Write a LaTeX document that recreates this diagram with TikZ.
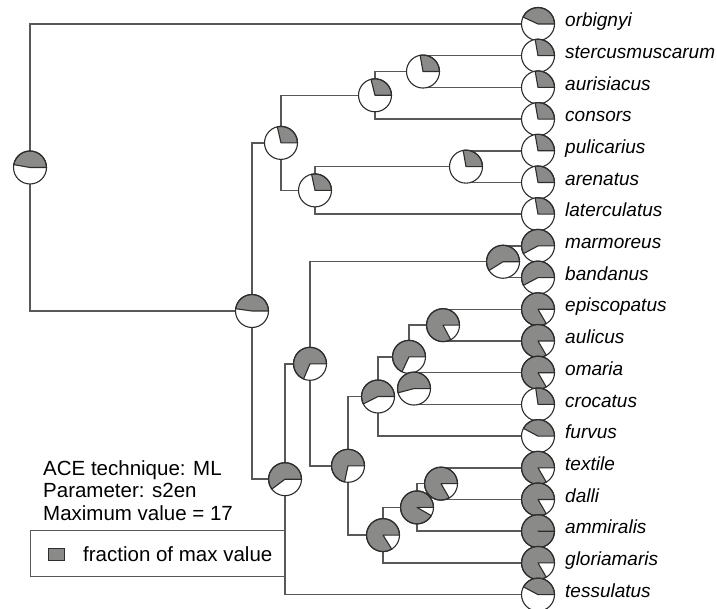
\documentclass[tikz,border=0pt]{standalone}
\usepackage{fontspec}
\setmainfont{Liberation Sans}
\definecolor{piegray}{RGB}{138,138,136}
\definecolor{edgegray}{RGB}{88,88,88}
\definecolor{pieline}{RGB}{45,45,45}
\newcommand\pieR{16.5pt}
\newcommand\drawpie[2]{%
  \fill[white] (#1) circle[radius=\pieR];
  \filldraw[fill=piegray, draw=pieline, line width=1.1pt, line join=round] (#1) -- ++(0:\pieR) arc[start angle=0, end angle=#2, radius=\pieR] -- cycle;
  \draw[pieline, line width=1.1pt] (#1) circle[radius=\pieR];
}
\tikzset{
  branch/.style={draw=edgegray, line width=1.5pt},
  tiplab/.style={anchor=mid west, inner sep=0pt, font=\itshape\fontsize{19}{22}\selectfont},
  legtext/.style={anchor=base west, inner sep=0pt, font=\fontsize{20.5}{24}\selectfont},
}
\begin{document}
\begin{tikzpicture}[x=1pt,y=1pt]
\useasboundingbox (0,0) rectangle (717,-609);
% tips
\coordinate (t0) at (538,-24);
\coordinate (t1) at (538,-55.7);
\coordinate (t2) at (538,-87.4);
\coordinate (t3) at (538,-119.1);
\coordinate (t4) at (538,-150.8);
\coordinate (t5) at (538,-182.5);
\coordinate (t6) at (538,-214.2);
\coordinate (t7) at (538,-245.9);
\coordinate (t8) at (538,-277.6);
\coordinate (t9) at (538,-309.3);
\coordinate (t10) at (538,-341);
\coordinate (t11) at (538,-372.7);
\coordinate (t12) at (538,-404.4);
\coordinate (t13) at (538,-436.1);
\coordinate (t14) at (538,-467.8);
\coordinate (t15) at (538,-499.5);
\coordinate (t16) at (538,-531.2);
\coordinate (t17) at (538,-562.9);
\coordinate (t18) at (538,-594.6);
% internal nodes
\coordinate (root) at (30,-167.5);
\coordinate (B) at (252,-311);
\coordinate (C) at (281,-142.9);
\coordinate (D) at (375,-95.3);
\coordinate (F) at (423,-71.55);
\coordinate (E) at (315,-190.4);
\coordinate (G) at (466,-166.65);
\coordinate (H) at (285,-479.2);
\coordinate (I) at (310,-363.8);
\coordinate (J) at (503,-261.75);
\coordinate (K) at (348,-465.8);
\coordinate (L) at (378,-396.5);
\coordinate (N) at (409,-356.85);
\coordinate (O) at (443,-325.15);
\coordinate (P) at (414,-388.55);
\coordinate (M) at (383,-535.1);
\coordinate (Q) at (417,-507.4);
\coordinate (R) at (441,-483.65);
% legend (drawn below branches)
\node[legtext] (lg1) at (43,-475) {ACE technique: ML};
\node[legtext] (lg2) at (43,-497.5) {Parameter: s2en};
\node[legtext] (lg3) at (43,-520) {Maximum value = 17};
\node[draw=edgegray, line width=1.3pt, minimum width=255pt, minimum height=46pt, anchor=north west, inner sep=0pt] (legbox) at (30,-530) {};
\node[fill=piegray, draw=pieline, line width=1pt, minimum width=16pt, minimum height=12pt, inner sep=0pt] (legsq) at (56.5,-554.5) {};
\node[legtext] (lgf) at (83,-561) {fraction of max value};
% branches
\draw[branch] (root) |- (t0);
\draw[branch] (root) |- (B);
\draw[branch] (B) |- (C);
\draw[branch] (B) |- (H);
\draw[branch] (C) |- (D);
\draw[branch] (C) |- (E);
\draw[branch] (D) |- (F);
\draw[branch] (D) |- (t3);
\draw[branch] (F) |- (t1);
\draw[branch] (F) |- (t2);
\draw[branch] (E) |- (G);
\draw[branch] (E) |- (t6);
\draw[branch] (G) |- (t4);
\draw[branch] (G) |- (t5);
\draw[branch] (H) |- (I);
\draw[branch] (H) |- (t18);
\draw[branch] (I) |- (J);
\draw[branch] (I) |- (K);
\draw[branch] (J) |- (t7);
\draw[branch] (J) |- (t8);
\draw[branch] (K) |- (L);
\draw[branch] (K) |- (M);
\draw[branch] (L) |- (N);
\draw[branch] (L) |- (t13);
\draw[branch] (N) |- (O);
\draw[branch] (N) |- (P);
\draw[branch] (O) |- (t9);
\draw[branch] (O) |- (t10);
\draw[branch] (P) |- (t11);
\draw[branch] (P) |- (t12);
\draw[branch] (M) |- (Q);
\draw[branch] (M) |- (t17);
\draw[branch] (Q) |- (R);
\draw[branch] (Q) |- (t16);
\draw[branch] (R) |- (t14);
\draw[branch] (R) |- (t15);
% internal pies (preorder)
\drawpie{root}{170}
\drawpie{B}{172}
\drawpie{C}{103}
\drawpie{D}{104}
\drawpie{F}{100}
\drawpie{E}{102}
\drawpie{G}{100}
\drawpie{H}{217}
\drawpie{I}{247}
\drawpie{J}{212}
\drawpie{K}{258}
\drawpie{L}{207}
\drawpie{N}{245}
\drawpie{O}{298}
\drawpie{P}{195}
\drawpie{M}{302}
\drawpie{Q}{330}
\drawpie{R}{300}
% tip pies
\drawpie{t0}{155}
\drawpie{t1}{100}
\drawpie{t2}{100}
\drawpie{t3}{100}
\drawpie{t4}{100}
\drawpie{t5}{100}
\drawpie{t6}{100}
\drawpie{t7}{208}
\drawpie{t8}{208}
\drawpie{t9}{300}
\drawpie{t10}{300}
\drawpie{t11}{300}
\drawpie{t12}{98}
\drawpie{t13}{152}
\drawpie{t14}{300}
\drawpie{t15}{300}
\drawpie{t16}{360}
\drawpie{t17}{300}
\drawpie{t18}{152}
% tip labels
\node[tiplab] (l0) at ([xshift=27pt]t0) {orbignyi};
\node[tiplab] (l1) at ([xshift=27pt]t1) {stercusmuscarum};
\node[tiplab] (l2) at ([xshift=27pt]t2) {aurisiacus};
\node[tiplab] (l3) at ([xshift=27pt]t3) {consors};
\node[tiplab] (l4) at ([xshift=27pt]t4) {pulicarius};
\node[tiplab] (l5) at ([xshift=27pt]t5) {arenatus};
\node[tiplab] (l6) at ([xshift=27pt]t6) {laterculatus};
\node[tiplab] (l7) at ([xshift=27pt]t7) {marmoreus};
\node[tiplab] (l8) at ([xshift=27pt]t8) {bandanus};
\node[tiplab] (l9) at ([xshift=27pt]t9) {episcopatus};
\node[tiplab] (l10) at ([xshift=27pt]t10) {aulicus};
\node[tiplab] (l11) at ([xshift=27pt]t11) {omaria};
\node[tiplab] (l12) at ([xshift=27pt]t12) {crocatus};
\node[tiplab] (l13) at ([xshift=27pt]t13) {furvus};
\node[tiplab] (l14) at ([xshift=27pt]t14) {textile};
\node[tiplab] (l15) at ([xshift=27pt]t15) {dalli};
\node[tiplab] (l16) at ([xshift=27pt]t16) {ammiralis};
\node[tiplab] (l17) at ([xshift=27pt]t17) {gloriamaris};
\node[tiplab] (l18) at ([xshift=27pt]t18) {tessulatus};
\end{tikzpicture}
\end{document}
